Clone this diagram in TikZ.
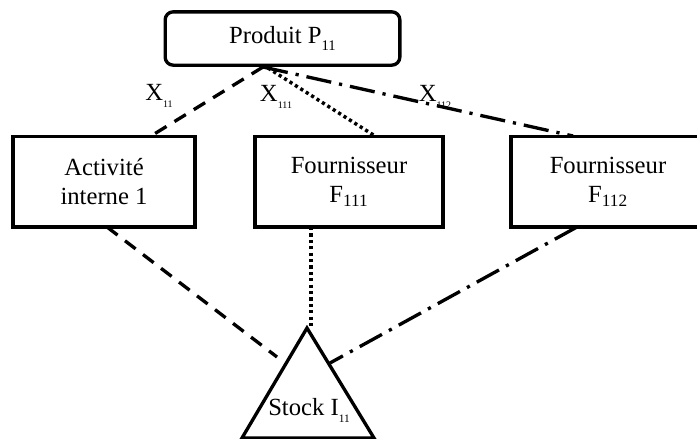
\documentclass[tikz,border=0pt]{standalone}
\usepackage{fontspec}
\setmainfont{Liberation Serif}
\usetikzlibrary{positioning,calc}

\newcommand{\lowidx}[2]{\raisebox{-0.28em}{\fontsize{#1}{#1}\selectfont #2}}

\begin{document}
\begin{tikzpicture}[
    x=0.75pt, y=-0.75pt,
    every node/.style={font=\fontsize{18.5}{22}\selectfont, align=center},
    prodbox/.style={draw, rectangle, rounded corners=6pt, line width=2.5pt, minimum width=176pt, minimum height=40pt},
    actbox/.style={draw, rectangle, line width=2.5pt, minimum height=68pt},
    dashlink/.style={line width=2.5pt, dash pattern=on 10pt off 7pt},
    dotlink/.style={line width=2.6pt, dash pattern=on 2.4pt off 2.4pt},
    dotdashlink/.style={line width=2.5pt, dash pattern=on 19pt off 6pt on 2.4pt off 6pt}
]
\useasboundingbox (0,0) rectangle (697,439);

% Main nodes
\node[prodbox] (P) at (282.5,38.5) {Produit P\lowidx{11}{11}};
\node[actbox, minimum width=136.5pt] (A) at (104,181.5) {Activité\\interne 1};
\node[actbox, minimum width=141pt] (F1) at (349,181.5) {Fournisseur\\F\textsubscript{111}};
\node[actbox, minimum width=145.5pt] (F2) at (608,181.5) {Fournisseur\\F\textsubscript{112}};

% Stock triangle
\coordinate (apex) at (307,328);
\coordinate (baseL) at (242,438);
\coordinate (baseR) at (374,438);
\draw[line width=2.5pt, line join=miter] (apex) -- (baseL) -- (baseR) -- cycle;
\node (I) at (309,410) {Stock I\lowidx{8.5}{11}};

% Helper coordinates
\coordinate (hub) at (263,67);
\coordinate (hubr) at (268,68);
\coordinate (Ain) at (151,136);
\coordinate (F1in) at (375,136);
\coordinate (F2in) at (573,136);
\coordinate (Aout) at (107,227);
\coordinate (F1out) at (311,227);
\coordinate (F2out) at (577,227);
\coordinate (Sleft) at (277,357);
\coordinate (Sright) at (330,363);

% Links from the product
\draw[dashlink] (hub) -- (Ain);
\draw[dotlink] (hubr) -- (F1in);
\draw[dotdashlink] (hub) -- (F2in);

% Links to the stock
\draw[dashlink] (Aout) -- (Sleft);
\draw[dotlink] (F1out) -- (F1out |- apex);
\draw[dotdashlink] (F2out) -- (Sright);

% Flow labels
\node (x11) at (159,96) {X\lowidx{7.5}{11}};
\node (x111) at (276,97) {X\lowidx{7.5}{111}};
\node (x112) at (435,97) {X\lowidx{7.5}{112}};

\end{tikzpicture}
\end{document}
